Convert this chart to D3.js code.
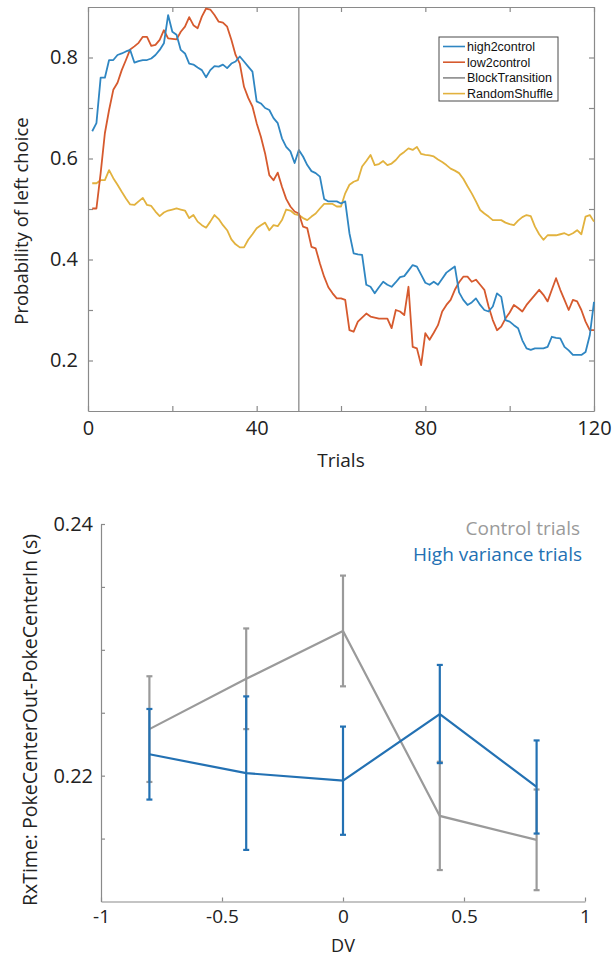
<!DOCTYPE html>
<html>
<head>
<meta charset="utf-8">
<script src="https://cdn.jsdelivr.net/npm/d3@7"></script>
<style>
  html, body { margin: 0; padding: 0; background: #fff; }
  svg { display: block; }
  .tick text { font-family: "Open Sans", sans-serif; fill: #222; }
</style>
</head>
<body>
<svg id="fig" width="616" height="958"></svg>
<script>
// ---------- Panel A: choice probability around the block transition ----------
const trials = d3.range(1, 121);

const high2control = [
  0.654, 0.670, 0.760, 0.760, 0.795, 0.795, 0.805, 0.808, 0.812, 0.815,
  0.790, 0.793, 0.795, 0.795, 0.798, 0.805, 0.815, 0.828, 0.884, 0.851,
  0.845, 0.815, 0.808, 0.788, 0.786, 0.780, 0.775, 0.761, 0.775, 0.783,
  0.782, 0.786, 0.779, 0.788, 0.792, 0.802, 0.792, 0.782, 0.772, 0.713,
  0.709, 0.700, 0.696, 0.680, 0.670, 0.640, 0.623, 0.614, 0.591, 0.617,
  0.604, 0.587, 0.575, 0.571, 0.564, 0.520, 0.515, 0.515, 0.515, 0.511,
  0.515, 0.452, 0.412, 0.410, 0.409, 0.350, 0.346, 0.333, 0.345, 0.356,
  0.350, 0.346, 0.355, 0.365, 0.367, 0.378, 0.389, 0.386, 0.370, 0.354,
  0.350, 0.356, 0.350, 0.362, 0.374, 0.380, 0.386, 0.335, 0.320, 0.310,
  0.315, 0.323, 0.310, 0.300, 0.297, 0.307, 0.333, 0.326, 0.280, 0.277,
  0.270, 0.264, 0.240, 0.224, 0.221, 0.224, 0.224, 0.224, 0.227, 0.247,
  0.245, 0.244, 0.227, 0.220, 0.211, 0.211, 0.211, 0.217, 0.250, 0.316
];

const low2control = [
  0.501, 0.501, 0.571, 0.650, 0.696, 0.736, 0.750, 0.775, 0.795, 0.816,
  0.822, 0.829, 0.841, 0.841, 0.823, 0.825, 0.835, 0.854, 0.838, 0.837,
  0.836, 0.851, 0.861, 0.880, 0.864, 0.858, 0.881, 0.897, 0.895, 0.884,
  0.871, 0.869, 0.861, 0.835, 0.805, 0.788, 0.742, 0.720, 0.703, 0.670,
  0.643, 0.610, 0.567, 0.557, 0.572, 0.544, 0.520, 0.505, 0.495, 0.491,
  0.465, 0.462, 0.425, 0.422, 0.392, 0.366, 0.345, 0.333, 0.323, 0.323,
  0.320, 0.260, 0.257, 0.277, 0.285, 0.293, 0.287, 0.285, 0.283, 0.283,
  0.283, 0.264, 0.300, 0.297, 0.290, 0.346, 0.227, 0.224, 0.191, 0.254,
  0.241, 0.255, 0.270, 0.297, 0.310, 0.320, 0.340, 0.355, 0.366, 0.366,
  0.356, 0.360, 0.350, 0.340, 0.307, 0.280, 0.260, 0.267, 0.283, 0.295,
  0.310, 0.304, 0.297, 0.310, 0.320, 0.330, 0.340, 0.330, 0.317, 0.340,
  0.363, 0.340, 0.320, 0.300, 0.320, 0.317, 0.300, 0.277, 0.260, 0.260
];

const randomShuffle = [
  0.551, 0.551, 0.557, 0.557, 0.577, 0.561, 0.548, 0.534, 0.521, 0.509,
  0.508, 0.515, 0.522, 0.508, 0.506, 0.495, 0.486, 0.493, 0.497, 0.499,
  0.501, 0.499, 0.497, 0.482, 0.488, 0.475, 0.468, 0.463, 0.475, 0.488,
  0.480, 0.468, 0.458, 0.440, 0.430, 0.424, 0.424, 0.439, 0.450, 0.462,
  0.468, 0.473, 0.458, 0.468, 0.466, 0.478, 0.499, 0.497, 0.490, 0.488,
  0.482, 0.478, 0.485, 0.491, 0.501, 0.510, 0.510, 0.510, 0.505, 0.505,
  0.531, 0.548, 0.554, 0.557, 0.584, 0.595, 0.607, 0.587, 0.589, 0.595,
  0.587, 0.590, 0.597, 0.607, 0.613, 0.620, 0.617, 0.623, 0.609, 0.607,
  0.606, 0.604, 0.598, 0.593, 0.587, 0.580, 0.576, 0.571, 0.560, 0.545,
  0.531, 0.515, 0.498, 0.491, 0.485, 0.478, 0.478, 0.478, 0.473, 0.470,
  0.468, 0.477, 0.484, 0.488, 0.486, 0.465, 0.450, 0.439, 0.448, 0.448,
  0.448, 0.450, 0.452, 0.448, 0.452, 0.458, 0.450, 0.485, 0.488, 0.475
];

const blockTransitionTrial = 50;
const trialTicks = [0, 20, 40, 60, 80, 100, 120];
const trialTickLabels = [0, 40, 80, 120];
const probTicks = [0.2, 0.3, 0.4, 0.5, 0.6, 0.7, 0.8];
const probTickLabels = [0.2, 0.4, 0.6, 0.8];
const legendA = ["high2control", "low2control", "BlockTransition", "RandomShuffle"];

// ---------- Panel B: reaction time by decision variable ----------
const dv = [-0.8, -0.4, 0, 0.4, 0.8];
const controlRT = [0.2237, 0.2277, 0.2315, 0.2168, 0.2149];
const controlErr = [0.0042, 0.0040, 0.0044, 0.0043, 0.0040];
const highVarRT = [0.2217, 0.2202, 0.2196, 0.2249, 0.2191];
const highVarErr = [0.0036, 0.0061, 0.0043, 0.0039, 0.0037];
const dvTicks = [-1, -0.5, 0, 0.5, 1];
const rtTicks = [0.215, 0.22, 0.225, 0.23, 0.235, 0.24];
const rtTickLabels = [0.22, 0.24];
const legendB = ["Control trials", "High variance trials"];

const colA = { high: "#2f86c2", low: "#d65a2e", block: "#8a8a8a", shuffle: "#e2b23e" };
const colB = { control: "#9a9a9a", high: "#2371b3" };
const axisCol = "#8a8a8a";
const font = '"Open Sans", sans-serif';

const svg = d3.select("#fig");

function styleAxis(g, size = 20) {
  g.select(".domain").attr("stroke", axisCol).attr("stroke-width", 1.2);
  g.selectAll(".tick line").attr("stroke", axisCol).attr("stroke-width", 1.2);
  g.selectAll(".tick text").attr("font-size", size).attr("font-family", font).attr("fill", "#222");
}

const onlyLabels = (arr, fmt) => d => arr.some(v => Math.abs(v - d) < 1e-9) ? fmt(d) : "";

// ----- Panel A -----
{
  const L = 88, R = 594, T = 7, B = 411;
  const x = d3.scaleLinear().domain([0, 120]).range([L, R]);
  const y = d3.scaleLinear().domain([0.1, 0.9]).range([B, T]);
  const g = svg.append("g");

  g.append("g").attr("transform", `translate(0,${B})`)
    .call(d3.axisBottom(x).tickValues(trialTicks).tickSizeInner(-5).tickSizeOuter(0)
      .tickPadding(10).tickFormat(onlyLabels(trialTickLabels, d3.format("d"))))
    .call(styleAxis);
  g.append("g").attr("transform", `translate(0,${T})`)
    .call(d3.axisTop(x).tickValues(trialTicks).tickSizeInner(-5).tickSizeOuter(0).tickFormat(""))
    .call(styleAxis);
  g.append("g").attr("transform", `translate(${L},0)`)
    .call(d3.axisLeft(y).tickValues(probTicks).tickSizeInner(-5).tickSizeOuter(0)
      .tickPadding(10).tickFormat(onlyLabels(probTickLabels, d3.format(".1f"))))
    .call(styleAxis);
  g.append("g").attr("transform", `translate(${R},0)`)
    .call(d3.axisRight(y).tickValues(probTicks).tickSizeInner(-5).tickSizeOuter(0).tickFormat(""))
    .call(styleAxis);

  const line = d3.line().x((d, i) => x(trials[i])).y(d => y(d));
  [[randomShuffle, colA.shuffle], [low2control, colA.low], [high2control, colA.high]].forEach(([s, c]) => {
    g.append("path").datum(s).attr("fill", "none").attr("stroke", c)
      .attr("stroke-width", 1.8).attr("stroke-linejoin", "round").attr("d", line);
  });

  g.append("line")
    .attr("x1", x(blockTransitionTrial)).attr("x2", x(blockTransitionTrial))
    .attr("y1", y(0.1)).attr("y2", y(0.9))
    .attr("stroke", colA.block).attr("stroke-width", 1.3);

  // legend box
  const lg = g.append("g").attr("transform", "translate(439,37)");
  lg.append("rect").attr("width", 119).attr("height", 64)
    .attr("fill", "#fff").attr("stroke", "#4a4a4a").attr("stroke-width", 1);
  const lcols = [colA.high, colA.low, colA.block, colA.shuffle];
  legendA.forEach((name, i) => {
    const yy = 9.5 + i * 15.7;
    lg.append("line").attr("x1", 4).attr("x2", 26).attr("y1", yy).attr("y2", yy)
      .attr("stroke", lcols[i]).attr("stroke-width", 1.6);
    lg.append("text").attr("x", 28).attr("y", yy).attr("dy", "0.36em")
      .attr("font-family", '"Liberation Sans", Arial, sans-serif').attr("font-size", 12.5)
      .attr("fill", "#111").text(name);
  });

  svg.append("text").attr("x", (L + R) / 2).attr("y", 467).attr("text-anchor", "middle")
    .attr("font-family", font).attr("font-size", 19).attr("fill", "#222").text("Trials");
  svg.append("text").attr("transform", `translate(28,${(T + B) / 2 + 12}) rotate(-90)`)
    .attr("text-anchor", "middle").attr("font-family", font).attr("font-size", 18.5)
    .attr("fill", "#222").text("Probability of left choice");
}

// ----- Panel B -----
{
  const L = 101, R = 585, T = 524, B = 901.5;
  const x = d3.scaleLinear().domain([-1, 1]).range([L, R]);
  const y = d3.scaleLinear().domain([0.21, 0.24]).range([B, T]);
  const g = svg.append("g");

  g.append("g").attr("transform", `translate(0,${B})`)
    .call(d3.axisBottom(x).tickValues(dvTicks).tickSizeInner(-4).tickSizeOuter(0)
      .tickPadding(8).tickFormat(d => String(d)))
    .call(styleAxis, 19);
  g.append("g").attr("transform", `translate(${L},0)`)
    .call(d3.axisLeft(y).tickValues(rtTicks).tickSizeInner(-4).tickSizeOuter(0)
      .tickPadding(8).tickFormat(onlyLabels(rtTickLabels, d3.format(".2f"))))
    .call(styleAxis);

  const series = [
    { m: controlRT, e: controlErr, c: colB.control },
    { m: highVarRT, e: highVarErr, c: colB.high }
  ];
  const line = d3.line().x((d, i) => x(dv[i])).y(d => y(d));
  series.forEach(s => {
    g.append("path").datum(s.m).attr("fill", "none").attr("stroke", s.c)
      .attr("stroke-width", 2.2).attr("d", line);
    const eb = g.append("g").attr("stroke", s.c).attr("stroke-width", 2.2);
    s.m.forEach((m, i) => {
      const cx = x(dv[i]), y0 = y(m - s.e[i]), y1 = y(m + s.e[i]);
      eb.append("line").attr("x1", cx).attr("x2", cx).attr("y1", y0).attr("y2", y1);
      eb.append("line").attr("x1", cx - 3).attr("x2", cx + 3).attr("y1", y0).attr("y2", y0);
      eb.append("line").attr("x1", cx - 3).attr("x2", cx + 3).attr("y1", y1).attr("y2", y1);
    });
  });

  svg.append("text").attr("x", 580).attr("y", 535).attr("text-anchor", "end")
    .attr("font-family", font).attr("font-size", 19).attr("fill", colB.control).text(legendB[0]);
  svg.append("text").attr("x", 582).attr("y", 561).attr("text-anchor", "end")
    .attr("font-family", font).attr("font-size", 19).attr("fill", colB.high).text(legendB[1]);

  svg.append("text").attr("x", (L + R) / 2).attr("y", 952).attr("text-anchor", "middle")
    .attr("font-family", font).attr("font-size", 18).attr("fill", "#222").text("DV");
  svg.append("text").attr("transform", `translate(37,720) rotate(-90)`)
    .attr("text-anchor", "middle").attr("font-family", font).attr("font-size", 19.5)
    .attr("fill", "#222").text("RxTime: PokeCenterOut-PokeCenterIn (s)");
}
</script>
</body>
</html>
